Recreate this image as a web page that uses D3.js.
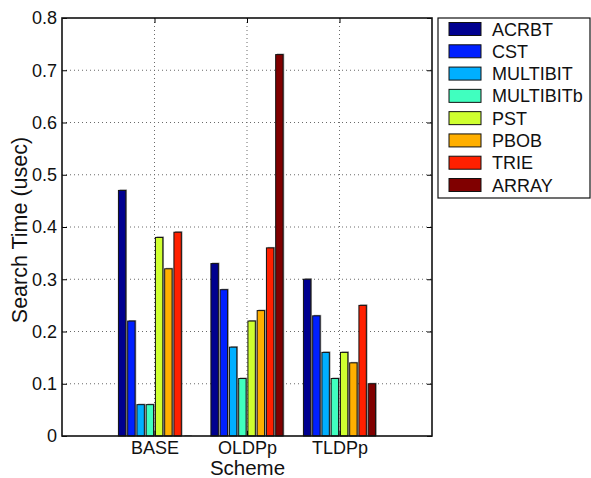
<!DOCTYPE html>
<html>
<head>
<meta charset="utf-8">
<script src="https://cdn.jsdelivr.net/npm/d3@7"></script>
<style>
  html, body { margin: 0; padding: 0; background: #fff; }
  svg { display: block; font-family: "Liberation Sans", Arial, Helvetica, sans-serif; }
</style>
</head>
<body>
<svg id="chart" width="591" height="478"></svg>
<script>
// Search time per scheme, one series per structure
const schemes = ["BASE", "OLDPp", "TLDPp"];
const seriesNames = ["ACRBT", "CST", "MULTIBIT", "MULTIBITb", "PST", "PBOB", "TRIE", "ARRAY"];
const ACRBT     = [0.47, 0.33, 0.30];
const CST       = [0.22, 0.28, 0.23];
const MULTIBIT  = [0.06, 0.17, 0.16];
const MULTIBITb = [0.06, 0.11, 0.11];
const PST       = [0.38, 0.22, 0.16];
const PBOB      = [0.32, 0.24, 0.14];
const TRIE      = [0.39, 0.36, 0.25];
const ARRAY     = [0.00, 0.73, 0.10];
const yTicks = [0, 0.1, 0.2, 0.3, 0.4, 0.5, 0.6, 0.7, 0.8];
const seriesColors = ["#00008f", "#0020ff", "#00afff", "#40ffbf", "#cfff30", "#ffaf00", "#ff2000", "#800000"];

const seriesValues = [ACRBT, CST, MULTIBIT, MULTIBITb, PST, PBOB, TRIE, ARRAY];

const svg = d3.select("#chart");
const plot = { left: 62, right: 432, top: 18, bottom: 436 };

// numeric x axis: groups sit at 1, 2, 3 on a 0..4 range
const x = d3.scaleLinear().domain([0, 4]).range([plot.left, plot.right]);
const y = d3.scaleLinear().domain([0, 0.8]).range([plot.bottom, plot.top]);

const slot = 0.1;          // spacing between bars within a group
const barW = 0.08;         // bar width in axis units

// grid
const grid = svg.append("g");
grid.selectAll("line.hg").data(yTicks.slice(1, -1)).join("line")
  .attr("x1", plot.left).attr("x2", plot.right)
  .attr("y1", d => y(d)).attr("y2", d => y(d))
  .attr("stroke", "#6a6a6a").attr("stroke-width", 1)
  .attr("stroke-dasharray", "1,3");
grid.selectAll("line.vg").data(schemes).join("line")
  .attr("x1", (d, i) => x(i + 1)).attr("x2", (d, i) => x(i + 1))
  .attr("y1", plot.top).attr("y2", plot.bottom)
  .attr("stroke", "#6a6a6a").attr("stroke-width", 1)
  .attr("stroke-dasharray", "1,3");

// bars
const bars = svg.append("g");
seriesValues.forEach((vals, j) => {
  const g = bars.append("g");
  const cx = i => x(i + 1 + (j - 3.5) * slot);
  const w = x(barW) - x(0);
  g.selectAll("rect.shadow").data(vals).join("rect")
    .attr("x", (d, i) => cx(i) - w / 2 + 1.2)
    .attr("y", d => y(d) - 1)
    .attr("width", w)
    .attr("height", d => y(0) - y(d) + 1)
    .attr("fill", "#9a9a9a");
  g.selectAll("rect.bar").data(vals).join("rect")
    .attr("x", (d, i) => cx(i) - w / 2)
    .attr("y", d => y(d))
    .attr("width", w)
    .attr("height", d => y(0) - y(d))
    .attr("fill", seriesColors[j])
    .attr("stroke", "#111")
    .attr("stroke-width", 1);
});

// axes with inward ticks
const fontSize = 18;
const labelSize = 20.5;
const yAxis = d3.axisLeft(y).tickValues(yTicks).tickSize(-5).tickPadding(5)
  .tickFormat(d => d === 0 ? "0" : d3.format(".1f")(d));
const yAxisR = d3.axisRight(y).tickValues(yTicks).tickSize(-5).tickFormat("");
const xAxis = d3.axisBottom(x).tickValues([1, 2, 3]).tickSize(-5).tickPadding(5)
  .tickFormat(d => schemes[d - 1]);
const xAxisT = d3.axisTop(x).tickValues([1, 2, 3]).tickSize(-5).tickFormat("");

function styleAxis(g) {
  g.select(".domain").remove();
  g.selectAll(".tick line").attr("stroke", "#000").attr("stroke-width", 1);
  g.selectAll(".tick text").attr("font-size", fontSize).attr("fill", "#111")
    .attr("font-family", "'Liberation Sans', Arial, sans-serif");
}
svg.append("g").attr("transform", `translate(${plot.left},0)`).call(yAxis).call(styleAxis);
svg.append("g").attr("transform", `translate(${plot.right},0)`).call(yAxisR).call(styleAxis);
svg.append("g").attr("transform", `translate(0,${plot.bottom})`).call(xAxis).call(styleAxis);
svg.append("g").attr("transform", `translate(0,${plot.top})`).call(xAxisT).call(styleAxis);

// axes box
svg.append("rect")
  .attr("x", plot.left).attr("y", plot.top)
  .attr("width", plot.right - plot.left).attr("height", plot.bottom - plot.top)
  .attr("fill", "none").attr("stroke", "#111").attr("stroke-width", 1.6);

// axis titles
svg.append("text")
  .attr("x", (plot.left + plot.right) / 2 + 0.5).attr("y", 475)
  .attr("text-anchor", "middle").attr("font-size", labelSize).attr("fill", "#111")
  .text("Scheme");
svg.append("text")
  .attr("transform", `translate(27,230) rotate(-90)`)
  .attr("text-anchor", "middle").attr("font-size", 21.5).attr("fill", "#111")
  .text("Search Time (usec)");

// legend
const legend = svg.append("g");
legend.append("rect")
  .attr("x", 438).attr("y", 18).attr("width", 152).attr("height", 180)
  .attr("fill", "#fff").attr("stroke", "#111").attr("stroke-width", 1.2);
const rowY = d3.scalePoint().domain(seriesNames).range([29, 185]);
const items = legend.selectAll("g.item").data(seriesNames).join("g")
  .attr("transform", d => `translate(0,${rowY(d)})`);
items.append("rect")
  .attr("x", 449).attr("y", -6.5).attr("width", 32).attr("height", 13)
  .attr("fill", (d, i) => seriesColors[i]).attr("stroke", "#111").attr("stroke-width", 1);
items.append("text")
  .attr("x", 492).attr("y", 6.5)
  .attr("font-size", fontSize).attr("fill", "#111")
  .text(d => d);
</script>
</body>
</html>
